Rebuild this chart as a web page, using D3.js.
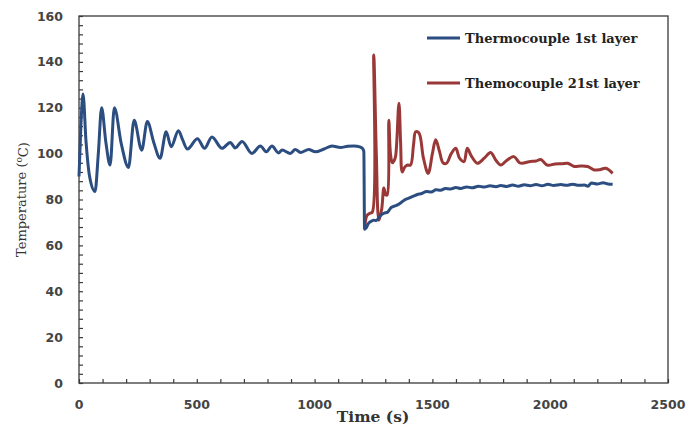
<!DOCTYPE html>
<html>
<head>
<meta charset="utf-8">
<script src="https://cdn.jsdelivr.net/npm/d3@7"></script>
<style>
  body { margin: 0; background: #fff; }
</style>
</head>
<body>
<div id="chart-area"></div>
<script>
// layer 1 thermocouple (time s, temp °C)
const time1 = [0, 8, 17, 30, 45, 68, 82, 96, 114, 132, 150, 180, 210, 234, 266, 290, 317, 344, 370, 391,
  422, 440, 460, 503, 533, 564, 607, 642, 663, 692, 734, 770, 795, 819, 847, 862, 897, 918, 940, 975,
  1003, 1040, 1074, 1110, 1140, 1166, 1195, 1203, 1209, 1212, 1218, 1228, 1237, 1250, 1262, 1275, 1294, 1310, 1325, 1345,
  1365, 1385, 1400, 1420, 1436, 1455, 1475, 1495, 1515, 1535, 1555, 1577, 1600, 1620, 1645, 1670, 1695, 1720, 1745, 1770,
  1790, 1815, 1840, 1865, 1890, 1915, 1940, 1965, 1990, 2015, 2045, 2070, 2095, 2120, 2145, 2160, 2175, 2200, 2225, 2245, 2265];
const temp1 = [90, 112, 126, 105, 90, 83.5, 100, 120, 105, 95, 120, 104, 94, 114.5, 101.5, 114, 105, 98, 109.5, 103,
  110, 106, 102, 106.5, 102.3, 107.3, 102.3, 104.9, 102.5, 105.3, 100.1, 103.3, 100.8, 103.3, 100.3, 101.6, 100.1, 101.8, 100.5, 101.8,
  100.8, 102, 103.3, 102.7, 103.2, 103.3, 102.8, 102.3, 101, 67, 67.5, 69.5, 70.3, 71, 70.8, 72.5, 74, 74.5, 76.5, 77.3,
  78.5, 80, 80.6, 81.5, 82.2, 82.6, 83.5, 83.3, 84.2, 84, 84.8, 84.6, 85.2, 84.8, 85.5, 85.1, 85.8, 85.4, 86, 85.6,
  86.1, 85.7, 86.3, 85.8, 86.4, 86, 86.5, 86, 86.6, 86.1, 86.5, 86.2, 86.7, 86.2, 86.3, 85.8, 87.2, 86.8, 87.3, 86.8, 86.7];

// layer 21 thermocouple
const time21 = [1213, 1222, 1235, 1245, 1251, 1262, 1273, 1285, 1294, 1302, 1308, 1315, 1322, 1330, 1338, 1344, 1358, 1365, 1372, 1382,
  1393, 1407, 1420, 1429, 1443, 1462, 1482, 1500, 1514, 1530, 1545, 1560, 1580, 1599, 1615, 1634, 1648, 1665, 1691, 1720,
  1747, 1770, 1790, 1815, 1846, 1870, 1882, 1910, 1940, 1960, 1988, 2020, 2050, 2074, 2102, 2130, 2159, 2187, 2210, 2236, 2265];
const temp21 = [67, 73, 74, 74.5, 143, 100, 71, 76, 85, 82, 82, 114.5, 100, 96, 97, 99, 122, 105, 92, 94,
  95, 95, 104, 109.5, 109, 98, 91.4, 100, 106, 101, 96, 95.8, 100, 102.3, 98, 96.5, 102.3, 99, 95.8, 98,
  100.5, 97, 95, 97, 98.7, 96, 95.8, 96.5, 96.8, 97.4, 95, 95.5, 95.6, 95.8, 94.4, 94.6, 94.4, 92.9, 93, 93.6, 91.4];

const seriesNames = ["Thermocouple 1st layer", "Themocouple 21st layer"];
const xTicks = [0, 500, 1000, 1500, 2000, 2500];
const yTicks = [0, 20, 40, 60, 80, 100, 120, 140, 160];

const canvasWidth = 687;
const canvasHeight = 432;
const margin = {left: 79, top: 16, right: 19, bottom: 49};
const chartWidth = canvasWidth - margin.left - margin.right;
const chartHeight = canvasHeight - margin.top - margin.bottom;

const blue = "#2b4d80";
const red = "#9a3838";
const axisColor = "#3a3a3a";

const canvas = d3.select("#chart-area").append("svg")
  .attr("width", canvasWidth).attr("height", canvasHeight);

const chartGroup = canvas.append("g").attr("transform", `translate(${margin.left}, ${margin.top})`);

const xScale = d3.scaleLinear().domain([0, 2500]).range([0, chartWidth]);
const yScale = d3.scaleLinear().domain([0, 160]).range([chartHeight, 0]);

// frame
chartGroup.append("rect")
  .attr("width", chartWidth).attr("height", chartHeight)
  .attr("fill", "none").attr("stroke", axisColor).attr("stroke-width", 1.3);

// minor ticks
const xAxis = d3.axisBottom(xScale).tickValues(d3.range(0, 2501, 100)).tickSize(-4).tickFormat("");
chartGroup.append("g").attr("transform", `translate(0, ${chartHeight})`).call(xAxis)
  .call(g => g.select(".domain").remove())
  .selectAll("line").attr("stroke", axisColor).attr("stroke-width", 1.2);

const yAxis = d3.axisLeft(yScale).tickValues(d3.range(0, 161, 4)).tickSize(-4).tickFormat("");
chartGroup.append("g").call(yAxis)
  .call(g => g.select(".domain").remove())
  .selectAll("line").attr("stroke", axisColor).attr("stroke-width", 1.2);

// tick labels
chartGroup.append("g").selectAll("text")
  .data(xTicks).enter().append("text")
  .attr("x", d => xScale(d))
  .attr("y", chartHeight + 26)
  .attr("text-anchor", "middle")
  .attr("font-family", "DejaVu Sans")
  .attr("font-weight", "bold")
  .attr("font-size", "12.5px")
  .attr("fill", "#444")
  .text(d => d);

chartGroup.append("g").selectAll("text")
  .data(yTicks).enter().append("text")
  .attr("x", -16)
  .attr("y", d => yScale(d))
  .attr("dy", "0.36em")
  .attr("text-anchor", "end")
  .attr("font-family", "DejaVu Sans")
  .attr("font-weight", "bold")
  .attr("font-size", "12.5px")
  .attr("fill", "#444")
  .text(d => d);

// axis titles
canvas.append("text")
  .attr("x", 373).attr("y", 422)
  .attr("text-anchor", "middle")
  .attr("font-family", "DejaVu Serif")
  .attr("font-weight", "bold")
  .attr("font-size", "15.5px")
  .attr("fill", "#333")
  .text("Time (s)");

const yTitle = canvas.append("text")
  .attr("transform", `translate(26, ${margin.top + chartHeight / 2}) rotate(-90)`)
  .attr("text-anchor", "middle")
  .attr("font-family", "DejaVu Serif")
  .attr("font-size", "13px")
  .attr("fill", "#333");
yTitle.append("tspan").text("Temperature (");
yTitle.append("tspan").attr("dy", "-0.4em").attr("font-size", "9px").text("o");
yTitle.append("tspan").attr("dy", "0.4em").text("C)");

// lines
const smoothLine = d3.line()
  .x(d => xScale(d[0]))
  .y(d => yScale(d[1]))
  .curve(d3.curveMonotoneX);

const spikyLine = d3.line()
  .x(d => xScale(d[0]))
  .y(d => yScale(d[1]))
  .curve(d3.curveCatmullRom.alpha(0.5));

const data1 = time1.map((t, i) => [t, temp1[i]]);
const data21 = time21.map((t, i) => [t, temp21[i]]);

chartGroup.append("path").datum(data21)
  .attr("d", spikyLine).attr("fill", "none")
  .attr("stroke", red).attr("stroke-width", 3).attr("stroke-linejoin", "round");

chartGroup.append("path").datum(data1)
  .attr("d", smoothLine).attr("fill", "none")
  .attr("stroke", blue).attr("stroke-width", 3).attr("stroke-linejoin", "round");

// legend
const legend = canvas.append("g");
[blue, red].forEach((c, i) => {
  const y = 38 + i * 45;
  legend.append("line")
    .attr("x1", 427).attr("x2", 460).attr("y1", y).attr("y2", y)
    .attr("stroke", c).attr("stroke-width", 3);
  legend.append("text")
    .attr("x", 465).attr("y", y).attr("dy", "0.35em")
    .attr("font-family", "DejaVu Serif")
    .attr("font-weight", "bold")
    .attr("font-size", "13px")
    .attr("fill", "#222")
    .text(seriesNames[i]);
});
</script>
</body>
</html>
